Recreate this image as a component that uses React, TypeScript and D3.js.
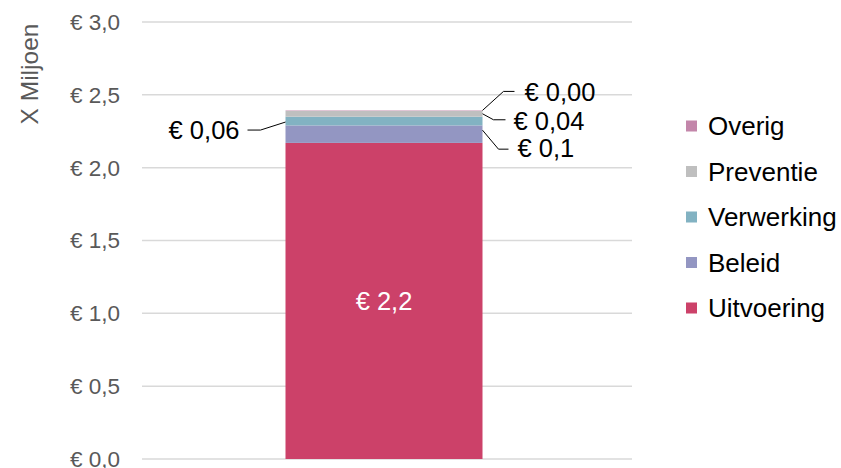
import * as d3 from "d3";

const categories = ["Totaal"];
const series = ["Uitvoering", "Beleid", "Verwerking", "Preventie", "Overig"];
const values = [2.17, 0.12, 0.06, 0.04, 0.003];
const valueLabels = ["€ 2,2", "€ 0,1", "€ 0,06", "€ 0,04", "€ 0,00"];
const colors = ["#CC4169", "#9396C2", "#82B2C2", "#BFBFBF", "#C386AA"];
const ticks = [0, 0.5, 1, 1.5, 2, 2.5, 3];
const tickLabels = ["€ 0,0", "€ 0,5", "€ 1,0", "€ 1,5", "€ 2,0", "€ 2,5", "€ 3,0"];

const W = 841;
const H = 468;
const margin = { top: 22, right: 209, bottom: 9, left: 142 };

function App() {
  const innerW = W - margin.left - margin.right;
  const innerH = H - margin.top - margin.bottom;
  const y = d3.scaleLinear().domain([0, 3]).range([innerH, 0]);
  const x = d3.scaleBand().domain(categories).range([-3, innerW - 3]).padding(0.4265);
  const bx = x(categories[0]) as number;
  const bw = x.bandwidth();

  let acc = 0;
  const stacks = values.map((v) => {
    const y0 = acc;
    acc += v;
    return { y0, y1: acc };
  });
  const right = bx + bw;
  const font = "Arial, 'Liberation Sans', sans-serif";
  const lblSize = 25.5;

  // leader lines / labels for the small segments
  const mid = (i: number) => y((stacks[i].y0 + stacks[i].y1) / 2);
  const top = (i: number) => y(stacks[i].y1);

  return (
    <svg width={W} height={H} style={{ position: "absolute", left: 0, top: 0 }}>
      <rect width={W} height={H} fill="#fff" />
      <text
        transform={`translate(38,74) rotate(-90)`}
        textAnchor="middle"
        fontFamily={font}
        fontSize={24.5}
        fill="#595959"
      >
        X Miljoen
      </text>
      <g transform={`translate(${margin.left},${margin.top})`}>
        {ticks.map((t, i) => (
          <g key={t}>
            <line x1={0} x2={innerW} y1={y(t)} y2={y(t)} stroke="#d9d9d9" strokeWidth={1.5} />
            <text
              x={-22}
              y={y(t)}
              dy="0.35em"
              textAnchor="end"
              fontFamily={font}
              fontSize={22.5}
              fill="#595959"
            >
              {tickLabels[i]}
            </text>
          </g>
        ))}
        {stacks.map((s, i) => (
          <rect
            key={series[i]}
            x={bx}
            width={bw}
            y={y(s.y1)}
            height={y(s.y0) - y(s.y1)}
            fill={colors[i]}
          />
        ))}
        <text
          x={bx + bw / 2}
          y={mid(0)}
          dy="0.35em"
          textAnchor="middle"
          fontFamily={font}
          fontSize={lblSize}
          fill="#fff"
        >
          {valueLabels[0]}
        </text>
        {/* Beleid */}
        <polyline
          points={`${right},${mid(1) - 4} ${right + 16},${mid(1) + 15} ${right + 26},${mid(1) + 15}`}
          fill="none"
          stroke="#000"
          strokeWidth={1}
        />
        <text x={right + 35} y={mid(1) + 14} dy="0.35em" fontFamily={font} fontSize={lblSize} fill="#000">
          {valueLabels[1]}
        </text>
        {/* Verwerking */}
        <polyline
          points={`${bx},${mid(2) + 1} ${bx - 25},${mid(2) + 9} ${bx - 38},${mid(2) + 9}`}
          fill="none"
          stroke="#000"
          strokeWidth={1}
        />
        <text x={bx - 46} y={mid(2) + 9} dy="0.35em" textAnchor="end" fontFamily={font} fontSize={lblSize} fill="#000">
          {valueLabels[2]}
        </text>
        {/* Preventie */}
        <polyline
          points={`${right},${mid(3)} ${right + 11},${mid(3) + 6} ${right + 23},${mid(3) + 6}`}
          fill="none"
          stroke="#000"
          strokeWidth={1}
        />
        <text x={right + 31} y={mid(3) + 7} dy="0.35em" fontFamily={font} fontSize={lblSize} fill="#000">
          {valueLabels[3]}
        </text>
        {/* Overig */}
        <polyline
          points={`${right},${top(4)} ${right + 21},${top(4) - 19} ${right + 32},${top(4) - 19}`}
          fill="none"
          stroke="#000"
          strokeWidth={1}
        />
        <text x={right + 42} y={top(4) - 18} dy="0.35em" fontFamily={font} fontSize={lblSize} fill="#000">
          {valueLabels[4]}
        </text>
      </g>
      <g transform="translate(686,0)">
        {series
          .slice()
          .reverse()
          .map((name, i) => {
            const cy = 126 + i * 45.5;
            const ci = series.length - 1 - i;
            return (
              <g key={name}>
                <rect x={0} y={cy - 5.5} width={11} height={11} fill={colors[ci]} />
                <text x={22} y={cy} dy="0.35em" fontFamily={font} fontSize={26} fill="#000">
                  {name}
                </text>
              </g>
            );
          })}
      </g>
    </svg>
  );
}

export default App;
